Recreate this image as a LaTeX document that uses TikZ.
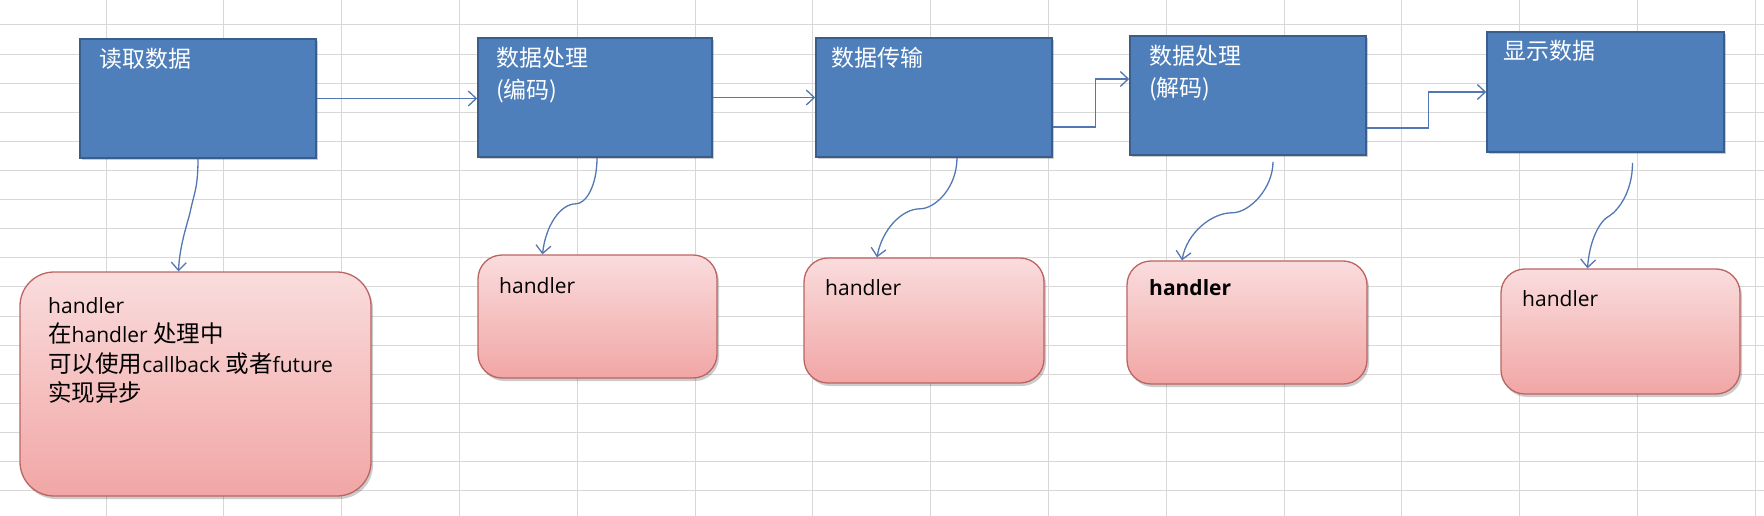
\documentclass[tikz,border=0pt]{standalone}
\usepackage{fontspec}
\setmainfont{Open Sans}
\newfontfamily\cjk{Noto Sans CJK SC}[Scale=1.12]
\usetikzlibrary{arrows.meta,shadows,calc}
\definecolor{gridc}{HTML}{D8D8D8}
\definecolor{boxblue}{HTML}{4F7FBA}
\definecolor{boxedge}{HTML}{3A5E8C}
\definecolor{pinktop}{HTML}{FADCDD}
\definecolor{pinkbot}{HTML}{F1A6A5}
\definecolor{pinkedge}{HTML}{BB6462}
\definecolor{arrc}{HTML}{5277B3}
\tikzset{
  bluebox/.style={draw=boxedge, line width=1.6pt, fill=boxblue, inner sep=0pt,
    drop shadow={shadow xshift=2pt, shadow yshift=-2pt, opacity=0.2, fill=black}},
  pinkbox/.style={draw=pinkedge, line width=1.3pt, top color=pinktop, bottom color=pinkbot,
    rounded corners=24pt, inner sep=0pt,
    drop shadow={shadow xshift=2pt, shadow yshift=-3pt, opacity=0.2, fill=black}},
  btext/.style={anchor=north west, inner sep=0pt, text=white, align=left,
    font=\fontsize{20.5}{32}\selectfont\cjk},
  ptext/.style={anchor=north west, inner sep=0pt, align=left,
    font=\fontsize{21}{29.5}\selectfont},
  arr/.style={draw=arrc, line width=1.3pt,
    -{Straight Barb[length=8pt,width=15pt,line width=1.3pt]}},
}
\newcommand\tstrut{\rule{0pt}{20pt}}
\begin{document}
\begin{tikzpicture}[x=1pt,y=-1pt]
\useasboundingbox (0,0) rectangle (1764,516);
\fill[white] (0,0) rectangle (1764,516);
% spreadsheet grid
\foreach \j in {0,...,16} \draw[gridc, line width=1pt] (0,25+29.1*\j) -- (1764,25+29.1*\j);
\foreach \i in {0,...,14} \draw[gridc, line width=1pt] (106+117.8*\i,0) -- (106+117.8*\i,516);
% blue process boxes
\node[bluebox, minimum width=236pt, minimum height=119pt] (b1) at (198,98.5) {};
\node[bluebox, minimum width=234pt, minimum height=119pt] (b2) at (595,97.5) {};
\node[bluebox, minimum width=236pt, minimum height=119pt] (b3) at (934,97.5) {};
\node[bluebox, minimum width=236pt, minimum height=119pt] (b4) at (1248,95.5) {};
\node[bluebox, minimum width=237pt, minimum height=120pt] (b5) at (1605.5,92) {};
\node[btext] (t1) at (99,47) {\tstrut 读取数据};
\node[btext] (t2) at (496,46) {\tstrut 数据处理\\(编码)};
\node[btext] (t3) at (831,46) {\tstrut 数据传输};
\node[btext] (t4) at (1149,44) {\tstrut 数据处理\\(解码)};
\node[btext] (t5) at (1503,39) {\tstrut 显示数据};
% pink handler boxes
\node[pinkbox, rounded corners=34pt, minimum width=351pt, minimum height=224pt] (p1) at (195.5,384) {};
\node[pinkbox, minimum width=239pt, minimum height=123pt] (p2) at (597.5,316.5) {};
\node[pinkbox, minimum width=240pt, minimum height=125pt] (p3) at (924,320.5) {};
\node[pinkbox, minimum width=240pt, minimum height=123pt] (p4) at (1247,322.5) {};
\node[pinkbox, minimum width=239pt, minimum height=125pt] (p5) at (1620.5,331.5) {};
\node[ptext] (h1) at (48,293) {\tstrut handler\\{\cjk 在}handler {\cjk 处理中}\\{\cjk 可以使用}callback {\cjk 或者}future\\{\cjk 实现异步}};
\node[ptext] (h2) at (499,273) {\tstrut handler};
\node[ptext] (h3) at (825,275) {\tstrut handler};
\node[ptext, font=\fontsize{21}{29.5}\selectfont\bfseries] (h4) at (1149,275) {\tstrut handler};
\node[ptext] (h5) at (1522,286) {\tstrut handler};
% flow connectors
\draw[arr] (b1.east) -- (b1.east -| b2.west);
\draw[arr] (b2.east) -- (b3.west);
\draw[arr] ([yshift=-29.5pt]b3.east) -- ++(43,0) |- ([yshift=16.5pt]b4.west);
\draw[arr] ([yshift=-32.5pt]b4.east) -- ++(62,0) |- (b5.west);
% handler connectors
\draw[arr] (b1.south) .. controls +(0,30) and +(4,-20) .. ++(-8,54)
  .. controls +(-3,12) and +(1,-25) .. ([xshift=-17pt]p1.north);
\draw[arr] ([xshift=2pt]b2.south) .. controls +(0,28) and +(10,0) .. ++(-21,46)
  .. controls +(-16,0) and +(3,-28) .. ([xshift=-55pt]p2.north);
\draw[arr] ([xshift=23pt]b3.south) .. controls +(0,30) and +(15,0) .. ++(-37,51)
  .. controls +(-18,0) and +(5,-28) .. ([xshift=-47pt]p3.north);
\draw[arr, shorten <=6pt] ([xshift=25pt]b4.south) .. controls +(0,32) and +(18,0) .. ++(-41,57)
  .. controls +(-20,0) and +(5,-28) .. ([xshift=-65pt]p4.north);
\draw[arr, shorten <=10pt] ([xshift=27pt]b5.south) .. controls +(0,40) and +(8,-5) .. ++(-23,63)
  .. controls +(-10,5) and +(2,-28) .. ([xshift=-33pt]p5.north);
\end{tikzpicture}
\end{document}
